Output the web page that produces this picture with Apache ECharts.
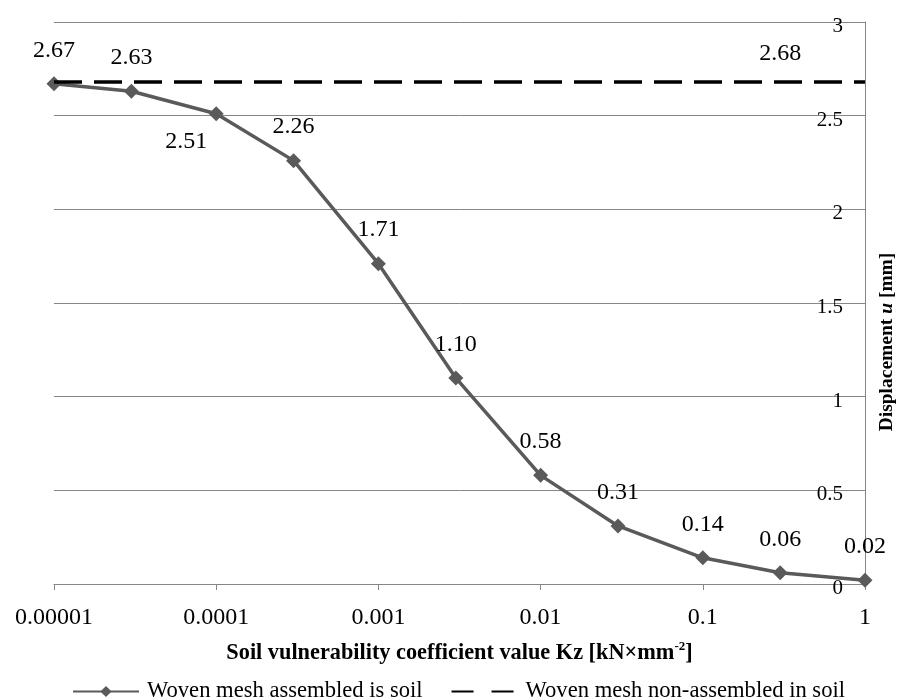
<!DOCTYPE html>
<html>
<head>
<meta charset="utf-8">
<script src="https://cdn.jsdelivr.net/npm/echarts@6/dist/echarts.min.js"></script>
<style>html,body{margin:0;padding:0;background:#fff;}#c{width:898px;height:699px;}</style>
</head>
<body>
<div id="c"></div>
<script>
const kzValues = [0.00001, 0.00003, 0.0001, 0.0003, 0.001, 0.003, 0.01, 0.03, 0.1, 0.3, 1];
const assembledValues = [2.67, 2.63, 2.51, 2.26, 1.71, 1.10, 0.58, 0.31, 0.14, 0.06, 0.02];
const nonAssembledValue = 2.68;
const nonAssembledLabelIndex = 9;
const seriesNames = ['Woven mesh assembled is soil', 'Woven mesh non-assembled in soil'];
const xTitle = 'Soil vulnerability coefficient value Kz [kN×mm';
const yTitle = 'Displacement';

const FONT = 'Liberation Serif';
const GRID_COLOR = '#868686';

const solidData = kzValues.map((x, i) => {
  const item = { value: [x, assembledValues[i]] };
  if (i === 2) {
    item.label = { position: 'bottom', distance: 8, offset: [-30, 0] };
  }
  return item;
});

const dashedData = kzValues.map(x => [x, nonAssembledValue]);

const chart = echarts.init(document.getElementById('c'), null, { renderer: 'canvas' });
chart.setOption({
  animation: false,
  backgroundColor: '#ffffff',
  textStyle: { fontFamily: FONT },
  grid: { left: 54, right: 33, top: 22, bottom: 115, containLabel: false },
  xAxis: {
    type: 'log',
    logBase: 10,
    min: 0.00001,
    max: 1,
    axisLine: { show: true, lineStyle: { color: GRID_COLOR, width: 1 } },
    axisTick: { show: true, length: 6, inside: false, lineStyle: { color: GRID_COLOR } },
    splitLine: { show: false },
    axisLabel: {
      margin: 22,
      fontSize: 24,
      fontFamily: FONT,
      color: '#000',
      formatter: v => String(Number(Number(v).toPrecision(6)))
    },
    name: '{t|' + xTitle + '}{sup|-2}{t|]}',
    nameLocation: 'middle',
    nameGap: 56,
    nameTextStyle: {
      fontSize: 22.3,
      fontWeight: 'bold',
      fontFamily: FONT,
      color: '#000',
      rich: {
        t: { fontSize: 22.3, fontWeight: 'bold', fontFamily: FONT, color: '#000', lineHeight: 26, verticalAlign: 'middle' },
        sup: { fontSize: 13, fontWeight: 'bold', fontFamily: FONT, color: '#000', lineHeight: 13, verticalAlign: 'top' }
      }
    }
  },
  yAxis: {
    type: 'value',
    position: 'right',
    min: 0,
    max: 3,
    interval: 0.5,
    axisLine: { show: true, lineStyle: { color: GRID_COLOR, width: 1 } },
    axisTick: { show: false },
    splitLine: { show: true, lineStyle: { color: GRID_COLOR, width: 1 } },
    axisLabel: {
      inside: true,
      margin: 22,
      color: '#000',
      formatter: v => '{a|' + v + '}',
      rich: {
        a: { fontSize: 21, fontFamily: FONT, color: '#000', padding: [9, 0, 0, 0] }
      }
    }
  },
  legend: {
    left: 67,
    top: 675,
    itemWidth: 66,
    itemHeight: 14,
    itemGap: 28,
    textStyle: { fontSize: 22.6, fontFamily: FONT, color: '#000', padding: [0, 0, 0, 3] },
    data: [
      { name: seriesNames[0] },
      { name: seriesNames[1], itemStyle: { opacity: 0 }, lineStyle: { type: [22, 18] } }
    ]
  },
  graphic: [{
    type: 'text',
    x: 887,
    y: 342,
    rotation: Math.PI / 2,
    style: {
      text: yTitle + ' {i|u} [mm]',
      fontSize: 19.5,
      fontWeight: 'bold',
      fontFamily: FONT,
      fill: '#000',
      align: 'center',
      verticalAlign: 'middle',
      rich: {
        i: { fontSize: 19.5, fontWeight: 'bold', fontStyle: 'italic', fontFamily: FONT, fill: '#000' }
      }
    }
  }],
  series: [
    {
      name: seriesNames[0],
      type: 'line',
      data: solidData,
      symbol: 'path://M0,-1L1,0L0,1L-1,0Z',
      symbolSize: 15,
      showSymbol: true,
      lineStyle: { color: '#5a5a5a', width: 3.5 },
      itemStyle: { color: '#5a5a5a' },
      label: {
        show: true,
        position: 'top',
        distance: 14,
        fontSize: 24,
        fontFamily: FONT,
        color: '#000',
        formatter: p => p.value[1].toFixed(2)
      },
      z: 2
    },
    {
      name: seriesNames[1],
      type: 'line',
      data: dashedData,
      symbol: 'none',
      lineStyle: { color: '#000', width: 3.5, type: [28, 12] },
      itemStyle: { color: '#000' },
      markPoint: {
        symbol: 'circle',
        symbolSize: 1,
        itemStyle: { color: '#000' },
        label: {
          show: true,
          position: 'top',
          distance: 16,
          fontSize: 24,
          fontFamily: FONT,
          color: '#000',
          formatter: p => Number(p.value).toFixed(2)
        },
        data: [{ coord: [kzValues[nonAssembledLabelIndex], nonAssembledValue], value: nonAssembledValue }]
      },
      z: 3
    }
  ]
});
</script>
</body>
</html>
